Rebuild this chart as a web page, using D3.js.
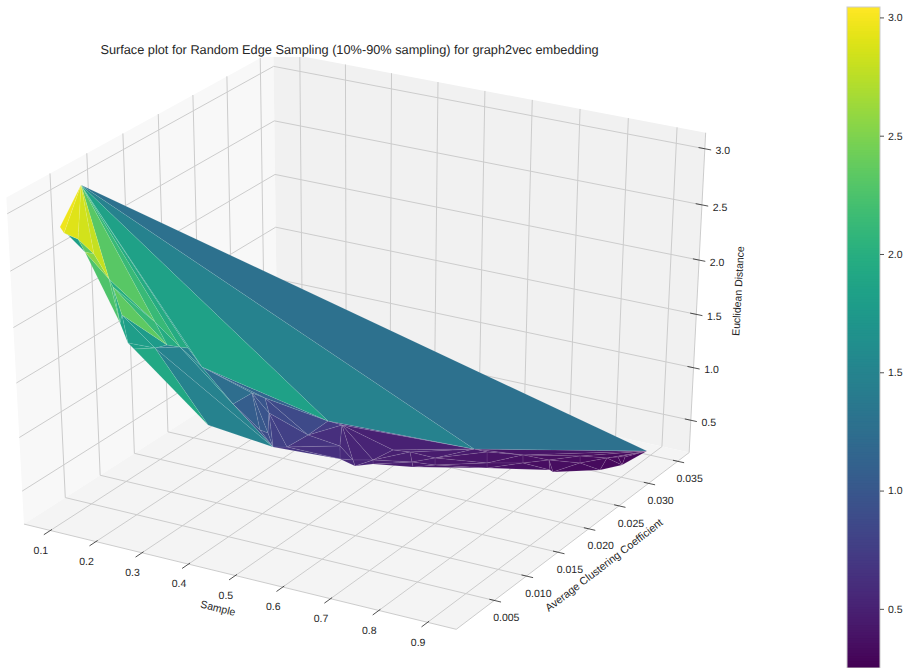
<!DOCTYPE html>
<html>
<head>
<meta charset="utf-8">
<script src="https://cdn.jsdelivr.net/npm/d3@7"></script>
<style>
body { margin: 0; background: #fff; }
text { font-family: "Liberation Sans", Arial, sans-serif; fill: #262626; text-rendering: geometricPrecision; }
</style>
</head>
<body>
<div id="container"></div>
<script>
const xTicks = [0.1, 0.2, 0.3, 0.4, 0.5, 0.6, 0.7, 0.8, 0.9];
const yTicks = [0.005, 0.010, 0.015, 0.020, 0.025, 0.030, 0.035];
const zTicks = [0.5, 1.0, 1.5, 2.0, 2.5, 3.0];
const cbarTicks = [0.5, 1.0, 1.5, 2.0, 2.5, 3.0];

// surface vertices (position + colour)
const vertexIds = ["a","b1","b2","b3","b4","b5","f1","f2","f3","L1","L2","L3","L4","n1","n2","m1","m2","m3","m3b","m3c","m4","m5","m6","m7",
    "q1","q2","q3","q4","q5","q6","K","q7","q8","p1","p2","p3","p5","r1","s1","r2","s2","r3","s3","r4","r5","r6","s4","r7","r8","r9","r10","s5",
    "u1","u2","u3","s6","s7","u4","u5","u6","s8","u7","u8","s9"];
const sampleValues = [0.0886,0.1422,0.1548,0.1384,0.2060,0.2451,-0.3815,0.0429,-0.2077,0.1662,0.1866,0.3043,0.5929,0.1201,0.2418,0.1781,0.0431,0.4828,0.2243,-0.0341,0.2188,0.3642,0.0234,0.3099,
    0.3279,0.3167,0.3209,0.3565,0.3985,0.4179,0.4012,0.4107,0.4207,0.4785,0.6633,0.9141,0.4081,0.4682,0.4991,0.5099,0.5272,0.5348,0.5392,0.5387,0.5662,0.5879,0.5987,0.6111,0.6225,0.6976,0.6772,0.7090,
    0.7334,0.7469,0.7803,0.8066,0.8113,0.8198,0.8331,0.8639,0.8789,0.8753,0.8868,0.8995];
const clusteringValues = [0.00613,-0.00017,-0.00046,0.00235,0.00017,-0.00042,0.03305,0.00912,0.02466,0.00579,0.00549,-0.00118,-0.01025,0.00792,0.00028,0.00535,0.01853,-0.00821,0.00846,0.02514,0.00713,0.00120,0.02451,0.00772,
    0.01363,0.01158,0.01600,0.01414,0.01110,0.00863,0.01162,0.01304,0.01551,0.01450,0.02385,0.03317,0.02159,0.01702,0.01484,0.01605,0.01513,0.01736,0.01704,0.02018,0.02086,0.01959,0.01896,0.02152,0.02068,0.02340,0.02493,0.02254,
    0.02653,0.02551,0.02722,0.02536,0.02549,0.02931,0.02827,0.03038,0.02802,0.03135,0.03163,0.03011];
const distanceValues = [3.04,2.95,2.92,2.75,2.76,2.6,1.2,2.3,1.5,1.9,1.75,2.07,2.05,2.1,2.5,2.0,1.3,2.55,1.65,0.75,1.67,2.05,0.8,1.56,
    1.1,1.07,0.95,0.92,0.9,1.05,0.75,0.7,0.72,0.95,0.48,0.32,0.55,0.6,0.6,0.55,0.55,0.52,0.5,0.5,0.48,0.46,0.45,0.44,0.42,0.4,0.42,0.4,
    0.38,0.36,0.35,0.36,0.34,0.34,0.33,0.32,0.32,0.3,0.3,0.3];
const triangles = `a b1 b2;a b2 b3;a b3 b4;a b4 b5;b2 f1 b3;f1 f3 b3;b3 f3 b4;f2 b5 b4;f2 L1 b5;a b5 m2;b5 m2 n1;n2 m2 m3;n2 m1 m3;n1 m1 L1;b5 n1 L1;
L1 m1 L2;m1 m3b m4;m1 m4 L2;L2 L3 m4;L3 L4 m4;m4 L4 K;m4 m5 K;m3c m4 m5;a m2 m5;m2 m3 m5;a m5 m6;a m6 m7;a m7 p1;a p1 p2;a p2 p3;
m5 m6 m7;m5 m7 q2;m5 q2 K;m7 q1 q2;m7 q3 q1;m7 p1 q3;q1 q3 q4;q1 q4 q5;q1 q2 q6;q1 q6 q5;q2 q6 K;q5 q6 K;q4 q5 K;q4 K q7;q4 q7 q8;q3 q4 q8;q3 p1 q8;
p1 p5 q8;q8 p5 r1;q7 q8 r1;K q7 s1;q7 r1 s1;p5 r1 r2;r1 s1 r2;s1 r2 s2;p5 r3 r2;r2 r3 s2;s2 r3 s3;p5 r4 r3;r3 r4 r5;r3 r5 r6;r3 r6 s3;s3 r6 s4;p1 p2 p5;p5 p2 r4;
r4 p2 r5;r5 p2 r7;r5 r7 r6;r6 r7 r8;r6 r8 s4;s4 r8 s5;r8 r7 r9;r8 r9 s5;r7 p2 r10;r7 r10 r9;p2 r10 u1;r10 r9 u1;r9 u2 u1;r9 s5 u2;s5 s6 u2;u1 u3 u2;u2 u3 s6;s6 s7 u3;
p2 p3 u1;u1 p3 u4;u1 u4 u3;u3 u4 u5;u3 u5 s7;s7 u5 s8;u4 u6 u5;u5 u6 s8;u4 p3 u6;u6 p3 u7;u7 p3 u8;u8 p3 s9;u7 u8 s9;u6 u7 s9;u6 s9 s8`
    .split(";").map(s => s.trim().split(" "));

const width = 906, height = 668;
// camera like matplotlib's default 3d view, elev 30, azim -60
const cam = {sx: 4990, sy: 3730, cx: 361.7, cy: 330.2, dist: 10};

const x = d3.scaleLinear().domain([0.0417, 0.9583]).range([-0.5, 0.5]);
const y = d3.scaleLinear().domain([-0.0008, 0.037]).range([-0.5, 0.5]);
const z = d3.scaleLinear().domain([0.188, 3.141]).range([-0.5, 0.5]);
const color = d3.scaleSequential(d3.interpolateViridis).domain([0.25, 3.044]);

function viewOf(u, v, t) {
    return [0.866025 * u + 0.5 * v, -0.25 * u + 0.433013 * v + 0.866025 * t, 0.433013 * u - 0.75 * v + 0.5 * t];
}
function project(a, b, c) {
    const p = viewOf(x(a), y(b), z(c)), w = cam.dist - p[2];
    return [cam.cx + cam.sx * p[0] / w, cam.cy - cam.sy * p[1] / w];
}

const svg = d3.select("#container").append("svg").attr("width", width).attr("height", height);
const line = d3.line();
const [x0, x1] = x.domain(), [y0, y1] = y.domain(), [z0, z1] = z.domain();

// the box is cut off flat at the top in the picture
svg.append("clipPath").attr("id", "box").append("rect").attr("x", 0).attr("y", 57).attr("width", width).attr("height", height - 57);
const box = svg.append("g").attr("clip-path", "url(#box)");

// panes
const panes = [
    {fill: "#f8f8f8", pts: [[x0, y0, z0], [x0, y1, z0], [x0, y1, z1], [x0, y0, z1]]},
    {fill: "#f1f1f1", pts: [[x0, y1, z0], [x1, y1, z0], [x1, y1, z1], [x0, y1, z1]]},
    {fill: "#f4f4f4", pts: [[x0, y0, z0], [x1, y0, z0], [x1, y1, z0], [x0, y1, z0]]}
];
box.selectAll(".pane").data(panes).join("path")
    .attr("d", d => line(d.pts.map(p => project(...p))) + "Z")
    .attr("fill", d => d.fill);

// grid
const grid = [];
xTicks.forEach(t => grid.push([[t, y0, z0], [t, y1, z0], [t, y1, z1]]));
yTicks.forEach(t => grid.push([[x1, t, z0], [x0, t, z0], [x0, t, z1]]));
zTicks.forEach(t => grid.push([[x0, y0, t], [x0, y1, t], [x1, y1, t]]));
grid.push([[x0, y0, z0], [x1, y0, z0], [x1, y1, z0], [x1, y1, z1]]);
box.selectAll(".grid").data(grid).join("path")
    .attr("d", d => line(d.map(p => project(...p))))
    .attr("fill", "none").attr("stroke", "#cccccc").attr("stroke-width", 1);

// ticks and labels
function tick(a, b) {
    svg.append("path").attr("d", line([project(...a), project(...b)]))
        .attr("stroke", "#262626").attr("stroke-width", 0.8).attr("fill", "none");
}
function tickLabel(pos, dx, dy, s) {
    svg.append("text").attr("x", pos[0] + dx).attr("y", pos[1] + dy).attr("dy", "0.35em")
        .attr("text-anchor", "middle").attr("font-size", 10.5).text(s);
}
const yUnit = y1 - y0, xUnit = x1 - x0;
xTicks.forEach(t => {
    tick([t, y0 - 0.024 * yUnit, z0], [t, y0 + 0.006 * yUnit, z0]);
    tickLabel(project(t, y0, z0), -9.5, 19.5, t.toFixed(1));
});
yTicks.forEach(t => {
    tick([x1 - 0.011 * xUnit, t, z0], [x1 + 0.015 * xUnit, t, z0]);
    tickLabel(project(x1, t, z0), 12, 17, t.toFixed(3));
});
zTicks.forEach(t => {
    tick([x1 - 0.014 * xUnit, y1, t], [x1 + 0.014 * xUnit, y1, t]);
    tickLabel(project(x1, y1, t), 18, 2, t.toFixed(1));
});

// surface, far faces first
const vertexIndex = new Map(vertexIds.map((id, i) => [id, i]));
const faces = triangles.map(tri => {
    const pts = tri.map(id => {
        const i = vertexIndex.get(id);
        return [sampleValues[i], clusteringValues[i], distanceValues[i]];
    });
    const depth = d3.mean(pts, p => viewOf(x(p[0]), y(p[1]), z(p[2]))[2]);
    return {pts, depth, val: d3.mean(pts, p => p[2])};
}).sort((a, b) => d3.ascending(a.depth, b.depth));
svg.selectAll(".face").data(faces).join("path")
    .attr("d", d => line(d.pts.map(p => project(...p))) + "Z")
    .attr("fill", d => color(d.val))
    .attr("stroke", "rgba(255,255,255,0.2)").attr("stroke-width", 0.4);

// titles
svg.append("text").attr("x", 349.5).attr("y", 50).attr("dy", "0.35em").attr("text-anchor", "middle").attr("font-size", 12.75)
    .text("Surface plot for Random Edge Sampling (10%-90% sampling) for graph2vec embedding");
svg.append("text").attr("transform", "translate(218,608) rotate(14)").attr("dy", "0.35em").attr("text-anchor", "middle").attr("font-size", 10.5).text("Sample");
svg.append("text").attr("transform", "translate(604,565) rotate(-37.5)").attr("dy", "0.35em").attr("text-anchor", "middle").attr("font-size", 10.75).text("Average Clustering Coefficient");
svg.append("text").attr("transform", "translate(738,291) rotate(-87)").attr("dy", "0.35em").attr("text-anchor", "middle").attr("font-size", 10.5).text("Euclidean Distance");

// colorbar
const cy = d3.scaleLinear().domain(color.domain()).range([668, 7]);
const cb = svg.append("g");
cb.selectAll("rect").data(d3.range(256)).join("rect")
    .attr("x", 847).attr("width", 33)
    .attr("y", i => cy(0.25 + (i + 1) / 256 * 2.794))
    .attr("height", 661 / 256 + 1)
    .attr("fill", i => d3.interpolateViridis(i / 255));
cb.append("rect").attr("x", 847).attr("y", 7).attr("width", 33).attr("height", 661).attr("fill", "none").attr("stroke", "#cccccc").attr("stroke-width", 1);
const cbAxis = svg.append("g").attr("transform", "translate(880,0)")
    .call(d3.axisRight(cy).tickValues(cbarTicks).tickSize(4).tickPadding(4).tickFormat(d3.format(".1f")));
cbAxis.select(".domain").remove();
cbAxis.selectAll("text").attr("font-size", 10.5).attr("font-family", null);
cbAxis.selectAll("line").attr("stroke", "#262626").attr("stroke-width", 0.8);
</script>
</body>
</html>
